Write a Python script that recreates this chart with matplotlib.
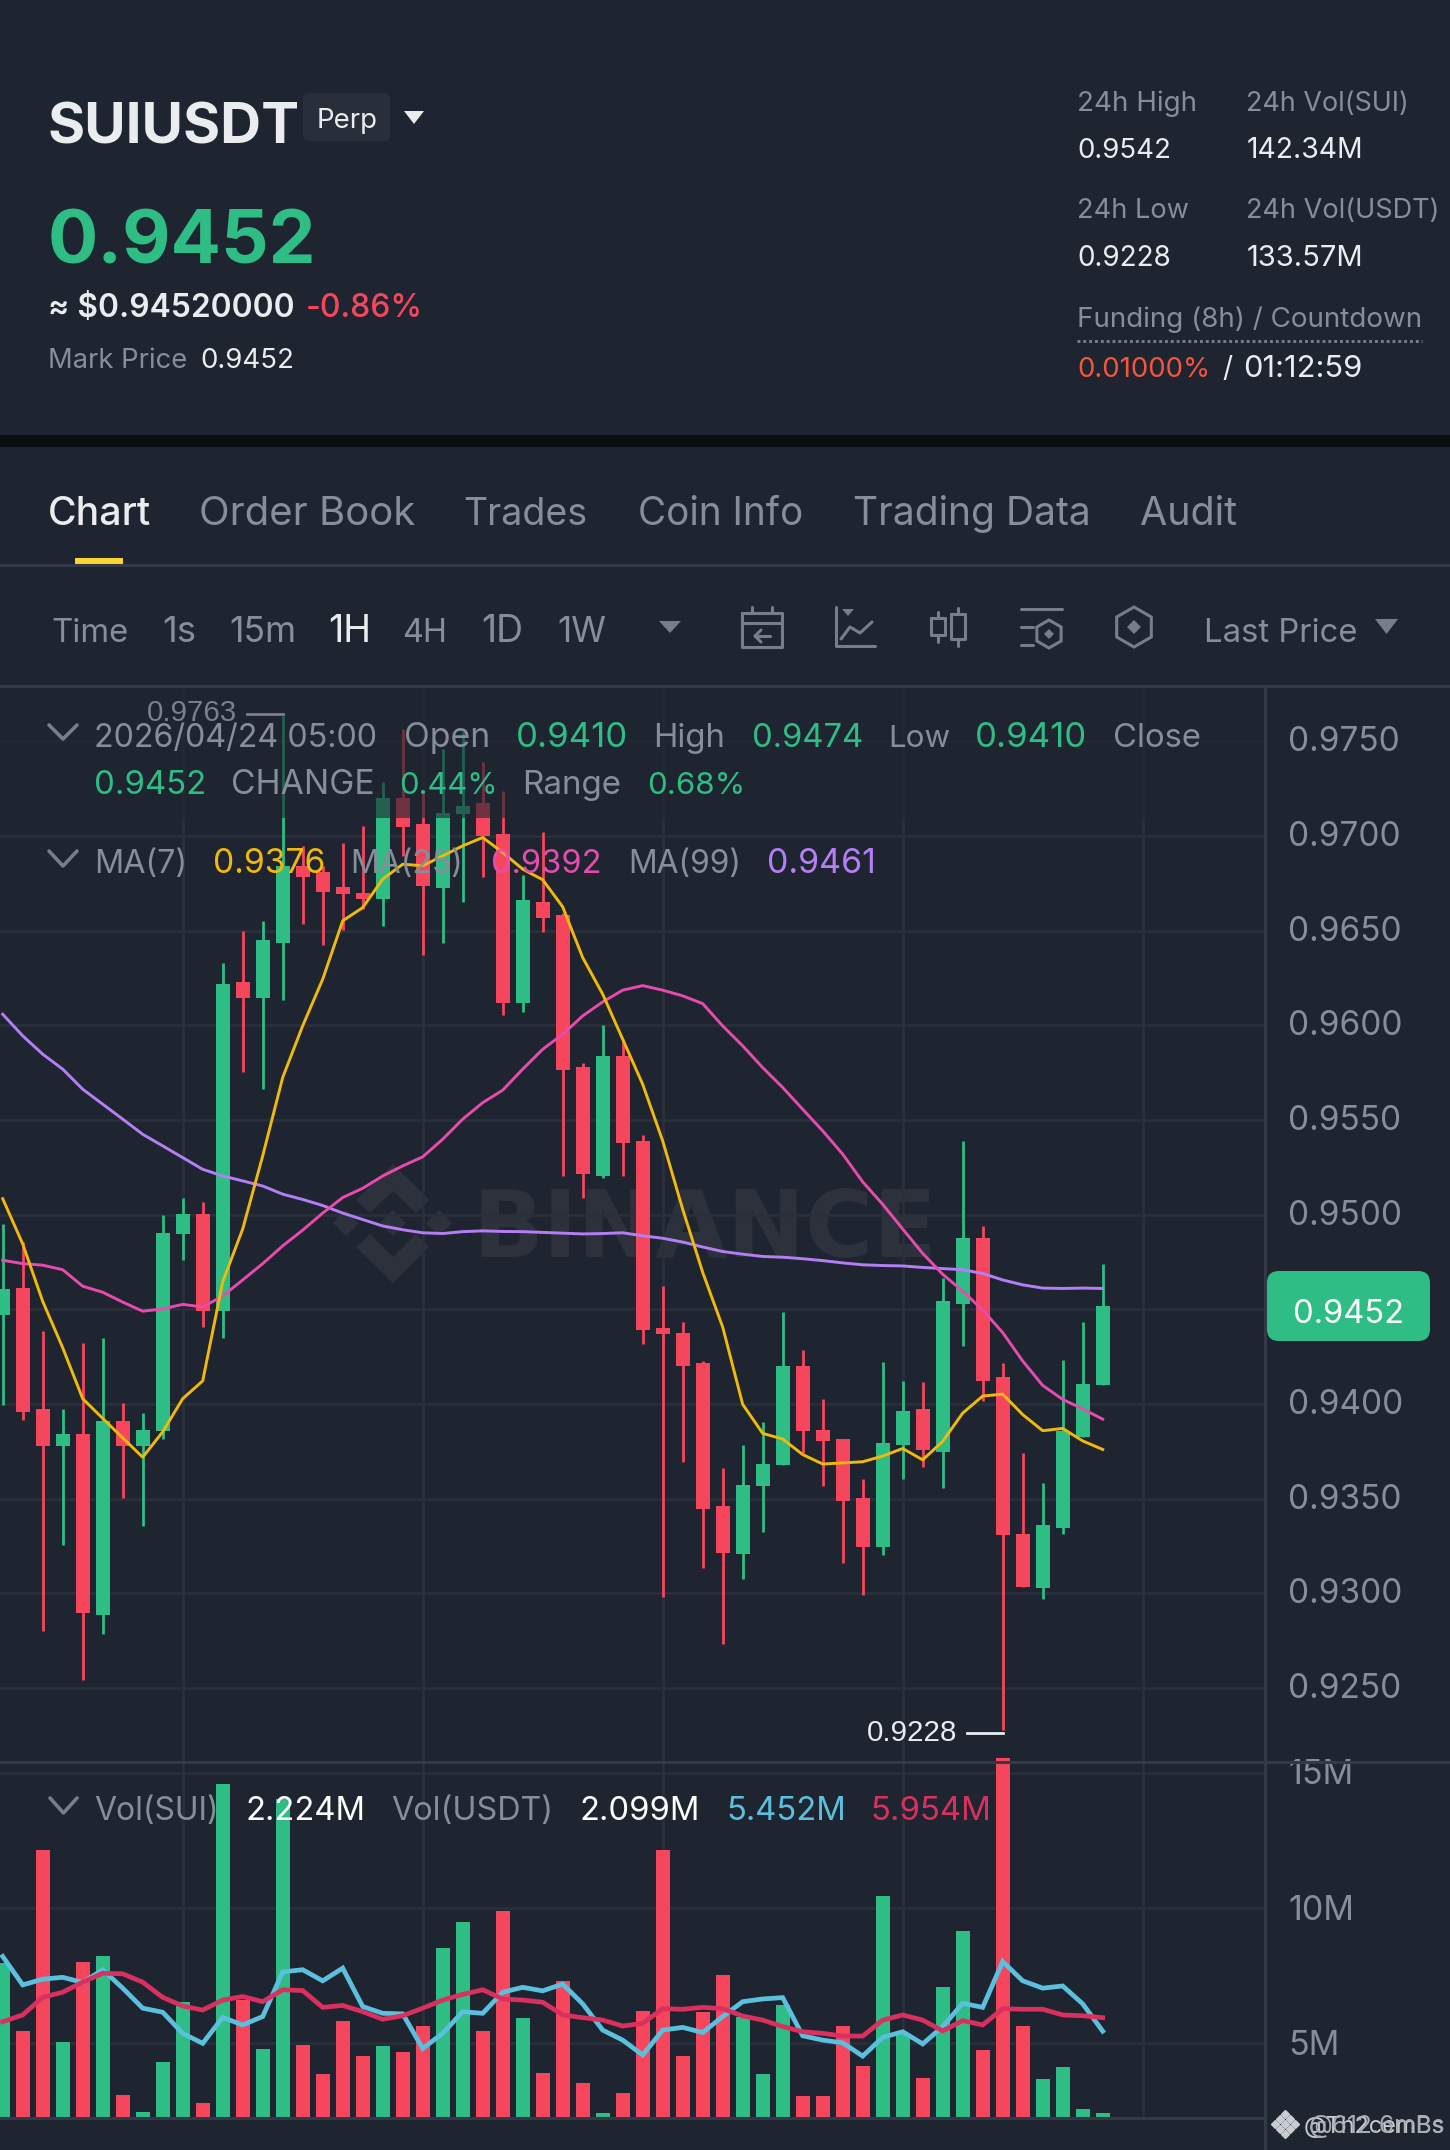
import matplotlib
matplotlib.use("Agg")
import matplotlib.pyplot as plt
from matplotlib.patches import FancyBboxPatch, Polygon, Rectangle, RegularPolygon
from matplotlib.transforms import ScaledTranslation
import numpy as np

plt.rcParams['font.family'] = ['Inter', 'DejaVu Sans']

# hourly candles
opens = [0.94470, 0.94614, 0.93972, 0.93777, 0.93843, 0.92886, 0.93912, 0.93777, 0.93858, 0.94900,
         0.95004, 0.94490, 0.96229, 0.96144, 0.96435, 0.96838, 0.96810, 0.96729, 0.96699, 0.96664,
         0.97199, 0.97060, 0.96724, 0.97116, 0.97171, 0.97011, 0.96116, 0.96648, 0.96581, 0.95780,
         0.95204, 0.95840, 0.95389, 0.94402, 0.94373, 0.94215, 0.93462, 0.93207, 0.93568, 0.93679,
         0.94203, 0.93863, 0.93813, 0.93502, 0.93247, 0.93785, 0.93972, 0.93749, 0.94530, 0.94875,
         0.94143, 0.93311, 0.93026, 0.93347, 0.93827, 0.94100]
highs = [0.94948, 0.94855, 0.94386, 0.93976, 0.94323, 0.94347, 0.94004, 0.93952, 0.94996, 0.95088,
         0.95068, 0.96331, 0.96500, 0.96551, 0.97630, 0.96944, 0.96842, 0.96961, 0.97053, 0.97282,
         0.97563, 0.97229, 0.97461, 0.97546, 0.97391, 0.97238, 0.96792, 0.97021, 0.96592, 0.95803,
         0.96000, 0.95926, 0.95422, 0.94625, 0.94434, 0.94227, 0.93661, 0.93783, 0.93904, 0.94486,
         0.94285, 0.94024, 0.93817, 0.93604, 0.94223, 0.94124, 0.94114, 0.94665, 0.95389, 0.94938,
         0.94215, 0.93743, 0.93584, 0.94233, 0.94434, 0.94740]
lows = [0.93996, 0.93916, 0.92803, 0.93255, 0.92544, 0.92783, 0.93506, 0.93355, 0.93817, 0.94759,
        0.94406, 0.94347, 0.95754, 0.95665, 0.96134, 0.96532, 0.96423, 0.96503, 0.96613, 0.96523,
        0.96894, 0.96371, 0.96433, 0.96653, 0.96785, 0.96053, 0.96072, 0.96493, 0.95204, 0.95090,
        0.95194, 0.95204, 0.94315, 0.92982, 0.93695, 0.93133, 0.92735, 0.93074, 0.93325, 0.93679,
        0.93739, 0.93566, 0.93163, 0.92994, 0.93203, 0.93604, 0.93665, 0.93554, 0.94307, 0.94018,
        0.92280, 0.93034, 0.92972, 0.93311, 0.93827, 0.94100]
closes = [0.94606, 0.93958, 0.93777, 0.93843, 0.92896, 0.93912, 0.93777, 0.93862, 0.94904, 0.95004,
          0.94490, 0.96220, 0.96144, 0.96449, 0.96838, 0.96785, 0.96704, 0.96695, 0.96669, 0.97199,
          0.97046, 0.96734, 0.97118, 0.97160, 0.97000, 0.96116, 0.96660, 0.96565, 0.95766, 0.95215,
          0.95840, 0.95377, 0.94390, 0.94370, 0.94199, 0.93448, 0.93215, 0.93572, 0.93681, 0.94203,
          0.93859, 0.93807, 0.93486, 0.93247, 0.93793, 0.93964, 0.93757, 0.94544, 0.94875, 0.94120,
          0.93307, 0.93034, 0.93361, 0.93855, 0.94104, 0.94520]

ma7 = [0.95084, 0.94845, 0.94542, 0.94297, 0.94028, 0.93924, 0.93821, 0.93719, 0.93853, 0.94028,
       0.94122, 0.94645, 0.94924, 0.95310, 0.95724, 0.95997, 0.96243, 0.96551, 0.96621, 0.96771,
       0.96850, 0.96842, 0.96894, 0.96947, 0.96991, 0.96912, 0.96824, 0.96768, 0.96625, 0.96357,
       0.96164, 0.95926, 0.95688, 0.95389, 0.95028, 0.94695, 0.94406, 0.93998, 0.93845, 0.93815,
       0.93733, 0.93683, 0.93689, 0.93695, 0.93725, 0.93765, 0.93705, 0.93803, 0.93952, 0.94042,
       0.94052, 0.93944, 0.93859, 0.93871, 0.93805, 0.93760]
ma25 = [0.94759, 0.94741, 0.94733, 0.94709, 0.94622, 0.94590, 0.94538, 0.94490, 0.94502, 0.94526,
        0.94512, 0.94570, 0.94655, 0.94741, 0.94835, 0.94918, 0.95008, 0.95090, 0.95139, 0.95204,
        0.95257, 0.95305, 0.95398, 0.95504, 0.95591, 0.95657, 0.95768, 0.95873, 0.95952, 0.96049,
        0.96123, 0.96185, 0.96209, 0.96185, 0.96155, 0.96114, 0.95996, 0.95891, 0.95776, 0.95671,
        0.95556, 0.95442, 0.95319, 0.95173, 0.95054, 0.94924, 0.94795, 0.94685, 0.94596, 0.94496,
        0.94377, 0.94227, 0.94098, 0.94024, 0.93974, 0.93920]
ma99 = [0.96058, 0.95944, 0.95847, 0.95768, 0.95662, 0.95583, 0.95504, 0.95424, 0.95363, 0.95301,
        0.95239, 0.95204, 0.95178, 0.95151, 0.95108, 0.95080, 0.95048, 0.95008, 0.94974, 0.94940,
        0.94920, 0.94904, 0.94900, 0.94910, 0.94914, 0.94911, 0.94910, 0.94906, 0.94902, 0.94898,
        0.94900, 0.94904, 0.94888, 0.94875, 0.94855, 0.94829, 0.94805, 0.94791, 0.94779, 0.94775,
        0.94767, 0.94757, 0.94745, 0.94735, 0.94731, 0.94729, 0.94721, 0.94715, 0.94709, 0.94689,
        0.94655, 0.94629, 0.94612, 0.94610, 0.94612, 0.94610]

# volume in millions
volumes = [7.96, 5.44, 12.14, 5.05, 8.00, 8.22, 3.09, 2.47, 4.33, 6.51,
           2.81, 14.59, 6.60, 4.81, 14.01, 4.94, 3.88, 5.81, 4.53, 4.90,
           4.68, 5.64, 8.54, 9.49, 5.46, 9.90, 5.94, 3.91, 7.31, 3.54,
           2.41, 3.16, 6.19, 12.16, 4.54, 6.17, 7.54, 5.99, 3.86, 6.42,
           3.07, 3.07, 5.64, 4.15, 10.43, 5.37, 3.72, 7.10, 9.15, 4.75,
           15.55, 5.64, 3.70, 4.11, 2.56, 2.41]
vol_ma_fast = [8.21, 7.16, 7.37, 7.44, 7.25, 7.72, 7.04, 6.30, 6.15, 5.37,
               5.00, 5.96, 5.68, 5.99, 7.64, 7.72, 7.31, 7.78, 6.36, 6.11,
               6.09, 4.81, 5.37, 6.17, 6.11, 6.89, 7.07, 6.94, 7.19, 6.46,
               5.49, 5.12, 4.57, 5.49, 5.59, 5.40, 5.99, 6.54, 6.64, 6.69,
               5.28, 5.12, 5.02, 4.53, 5.22, 5.43, 4.98, 5.62, 6.48, 6.33,
               8.02, 7.31, 7.04, 7.12, 6.46, 5.45]
vol_ma_slow = [5.80, 6.05, 6.70, 6.89, 7.26, 7.59, 7.57, 7.26, 6.70, 6.38,
               6.23, 6.60, 6.73, 6.54, 6.98, 6.95, 6.33, 6.40, 6.17, 5.89,
               6.02, 6.30, 6.60, 6.81, 6.98, 6.64, 6.60, 6.52, 6.05, 5.95,
               5.86, 5.64, 5.74, 6.28, 6.26, 6.33, 6.28, 6.01, 5.86, 5.62,
               5.43, 5.37, 5.27, 5.27, 5.86, 6.05, 5.86, 5.46, 5.84, 5.68,
               6.28, 6.26, 6.26, 6.05, 6.02, 5.95]

price_ticks = [0.9750, 0.9700, 0.9650, 0.9600, 0.9550, 0.9500, 0.9450, 0.9400, 0.9350, 0.9300, 0.9250]
price_tick_labels = ['0.9750', '0.9700', '0.9650', '0.9600', '0.9550', '0.9500', '', '0.9400', '0.9350', '0.9300', '0.9250']
vol_ticks = [5, 10, 15]
vol_tick_labels = ['5M', '10M', '15M']
time_ticks = [9, 21, 33, 45, 57]

tabs = ['Order Book', 'Trades', 'Coin Info', 'Trading Data', 'Audit']
tab_x = [199, 463, 638, 853, 1140]
tab_right = [415, 587, 803, 1090, 1237]
intervals = ['Time', '1s', '15m', '1H', '4H', '1D', '1W']
interval_x = [51, 162, 229, 328, 402, 481, 557]
interval_right = [128, 196, 296, 371, 447, 523, 606]

BG = '#1e2530'
GRID = '#2a303b'
EDGE = '#333a47'
GRAY = '#868e9c'
DIM = '#767d8b'
WHITE = '#eaecef'
GREEN = '#2ebd85'
RED = '#f6465d'
YELLOW = '#f0b90b'
PINK = '#e84bad'
PURPLE = '#b57ef5'
CYAN = '#5bc0de'
CRIMSON = '#d9305f'
WM = '#2c313c'

W, H = 1450, 2150
fig = plt.figure(figsize=(W / 100, H / 100), dpi=100, facecolor=BG)
VOL_BASE = 2.28


def box(left, top, right, bottom):
    return [left / W, 1 - bottom / H, (right - left) / W, (bottom - top) / H]


def nudge(axis_, dx, dy):
    # tick labels sit a little up and left of their grid lines in the app
    off = ScaledTranslation(dx / 100, dy / 100, fig.dpi_scale_trans)
    for t in axis_.get_yticklabels():
        t.set_transform(t.get_transform() + off)


# page background: separator band and the watermark sit under the charts
back = fig.add_axes([0, 0, 1, 1], zorder=0)
back.set_xlim(0, W)
back.set_ylim(H, 0)
back.axis('off')
back.add_patch(Rectangle((0, 435), W, 12, color='#0b0e11', lw=0))
for pts in ([(393, 1164), (429, 1200), (416, 1213), (393, 1191), (370, 1213), (356, 1200)],
            [(393, 1283), (429, 1247), (416, 1234), (393, 1257), (370, 1234), (356, 1247)],
            [(393, 1210), (406, 1223), (393, 1236), (380, 1223)],
            [(346, 1210), (359, 1223), (346, 1236), (333, 1223)],
            [(439, 1210), (452, 1223), (439, 1236), (426, 1223)]):
    back.add_patch(Polygon(pts, color=WM, lw=0))
back.text(473, 1257, 'BINANCE', color=WM, fontsize=67, fontweight='bold', family='DejaVu Sans', va='baseline')

x = np.arange(len(closes))
opens_a = np.array(opens)
closes_a = np.array(closes)
colors = [GREEN if c >= o else RED for o, c in zip(opens, closes)]

# price panel
ax = fig.add_axes(box(0, 686, 1265, 1761), zorder=1)
ax.patch.set_alpha(0)
ax.set_xlim(-0.135, 63.115)
ax.set_ylim(0.92115, 0.97791)
ax.vlines(x, lows, highs, colors=colors, lw=2.0, zorder=3)
ax.bar(x, np.abs(closes_a - opens_a), 0.7, bottom=np.minimum(opens_a, closes_a), color=colors, zorder=3)
ax.plot(x, ma99, color=PURPLE, lw=2.1, zorder=4)
ax.plot(x, ma25, color=PINK, lw=2.1, zorder=4)
ax.plot(x, ma7, color=YELLOW, lw=2.1, zorder=4)
ax.set_xticks(time_ticks)
ax.set_xticklabels([])
ax.set_yticks(price_ticks)
ax.set_yticklabels(price_tick_labels, color=GRAY, fontsize=24)
ax.yaxis.tick_right()
ax.tick_params(length=0, axis='y', pad=18)
ax.tick_params(length=0, axis='x')
ax.grid(color=GRID, lw=1.9)
ax.set_axisbelow(True)
for s in ax.spines.values():
    s.set_visible(False)
nudge(ax, -2.5, 2.5)

# volume panel, bars stand on the smallest volume as in the app
vax = fig.add_axes(box(0, 1761, 1265, 2117), zorder=1)
vax.patch.set_alpha(0)
vax.set_xlim(-0.135, 63.115)
vax.set_ylim(VOL_BASE, 15.43)
vax.bar(x, np.array(volumes) - VOL_BASE, 0.7, bottom=VOL_BASE, color=colors, zorder=3, clip_on=False)
vax.plot(x, vol_ma_fast, color=CYAN, lw=3.4, zorder=4, solid_joinstyle='miter')
vax.plot(x, vol_ma_slow, color=CRIMSON, lw=3.4, zorder=4, solid_joinstyle='miter')
vax.set_xticks(time_ticks)
vax.set_xticklabels([])
vax.set_yticks(vol_ticks)
vax.set_yticklabels(vol_tick_labels, color=GRAY, fontsize=24.5)
vax.yaxis.tick_right()
vax.tick_params(length=0, axis='y', pad=18)
vax.tick_params(length=0, axis='x')
vax.grid(color=GRID, lw=1.9)
vax.set_axisbelow(True)
for s in vax.spines.values():
    s.set_visible(False)
nudge(vax, -2, 1)

# everything on top, in pixel coordinates
top = fig.add_axes([0, 0, 1, 1], zorder=5)
top.patch.set_alpha(0)
top.set_xlim(0, W)
top.set_ylim(H, 0)
top.axis('off')
renderer = fig.canvas.get_renderer()


def label(px, py, s, color=GRAY, size=32, weight='normal', right=None, **kw):
    t = top.text(px, py, s, color=color, fontsize=size * 0.72, fontweight=weight, va='baseline', **kw)
    if right is not None:
        # scale the font so the string ends where it ends in the screenshot
        width = t.get_window_extent(renderer).width
        t.set_fontsize(size * 0.72 * (right - px) / width)
    return t


def tri(x0, x1, y0, y1, color):
    top.add_patch(Polygon([(x0, y0), (x1, y0), ((x0 + x1) / 2, y1)], color=color, lw=0))


def seg(xs, ys, color=DIM, lw=2.2):
    top.plot(xs, ys, color=color, lw=lw, solid_capstyle='round', solid_joinstyle='round')


def chevron(x0, x1, y0, y1):
    seg([x0, (x0 + x1) / 2, x1], [y0, y1, y0], lw=2.6)


# dimmed strip behind the first two legend rows
top.add_patch(Rectangle((0, 687), 1264, 131, color=BG, alpha=0.62, lw=0))
top.plot([0, W], [565, 565], color=EDGE, lw=2.2)
top.plot([0, W], [685.5, 685.5], color=EDGE, lw=2.2)
top.plot([0, W], [1761.5, 1761.5], color=EDGE, lw=2.2)
top.plot([0, 1265], [2117.5, 2117.5], color=EDGE, lw=2.2)
top.plot([1265, 1265], [686, H], color=EDGE, lw=2.2)

# header, left
label(48, 143, 'SUIUSDT', WHITE, 56, 'bold', right=300)
top.add_patch(FancyBboxPatch((309, 99), 75, 36, boxstyle='round,pad=6,rounding_size=6', color='#282e3a', lw=0))
label(317, 128, 'Perp', WHITE, 28, right=378)
tri(404, 424, 111, 124, WHITE)
label(48, 263, '0.9452', GREEN, 78, 'bold', right=317)
label(48, 317, '≈ $0.94520000', WHITE, 31, 'semibold', right=293)
label(306, 317, '-0.86%', RED, 32, 'medium', right=423)
label(48, 368, 'Mark Price', GRAY, 27, right=187)
label(200, 368, '0.9452', WHITE, 28, right=294)

# header, right
label(1077, 111, '24h High', GRAY, 28, right=1197)
label(1246, 111, '24h Vol(SUI)', GRAY, 28, right=1409)
label(1077, 158, '0.9542', WHITE, 28, right=1171)
label(1247, 158, '142.34M', WHITE, 28, right=1364)
label(1077, 218, '24h Low', GRAY, 28, right=1189)
label(1246, 218, '24h Vol(USDT)', GRAY, 28, right=1440)
label(1077, 266, '0.9228', WHITE, 28, right=1171)
label(1247, 266, '133.57M', WHITE, 28, right=1364)
label(1077, 327, 'Funding (8h) / Countdown', GRAY, 28, right=1422)
top.plot([1077, 1422], [341, 341], color=DIM, lw=2.1, ls=(0, (1, 1)))
label(1077, 377, '0.01000%', '#f6553a', 28, right=1210)
label(1222, 377, '/', WHITE, 28)
label(1243, 377, '01:12:59', WHITE, 28, right=1362)

# tabs
label(48, 525, 'Chart', WHITE, 38, 'medium', right=151)
for tx, name, tr in zip(tab_x, tabs, tab_right):
    label(tx, 525, name, GRAY, 38, right=tr)
top.add_patch(Rectangle((75, 558), 48, 9, color='#fcd535', lw=0))

# interval row
for tx, name, tr in zip(interval_x, intervals, interval_right):
    label(tx, 642, name, WHITE if name == '1H' else GRAY, 32, right=tr)
tri(659, 681, 621, 633, DIM)
label(1204, 642, 'Last Price', GRAY, 32, right=1357)
tri(1375, 1398, 619, 634, DIM)

# toolbar icons
seg([742, 782, 782, 742, 742], [613, 613, 647, 647, 613])
seg([742, 782], [623, 623])
seg([752, 752], [607, 613])
seg([772, 772], [607, 613])
seg([755, 770], [636, 636])
seg([761, 755, 761], [630, 636, 642])
seg([836, 836, 875], [607, 646, 646])
top.add_patch(Polygon([(842, 609), (854, 609), (848, 616)], color=DIM, lw=0))
seg([841, 850, 860, 872], [639, 627, 633, 622])
seg([931, 945, 945, 931, 931], [618, 618, 635, 635, 618])
seg([938, 938], [612, 618])
seg([938, 938], [635, 642])
seg([951, 965, 965, 951, 951], [614, 614, 639, 639, 614])
seg([958, 958], [608, 614])
seg([958, 958], [639, 646])
seg([1021, 1062], [609, 609])
seg([1021, 1033], [627, 627])
seg([1021, 1033], [645, 645])
top.add_patch(RegularPolygon((1049, 634), 6, radius=14, fill=False, ec=DIM, lw=2.2))
top.add_patch(RegularPolygon((1049, 634), 4, radius=5, color=DIM, lw=0))
top.add_patch(RegularPolygon((1134, 627), 6, radius=20, fill=False, ec=DIM, lw=2.2))
top.add_patch(RegularPolygon((1134, 627), 4, radius=7, color=DIM, lw=0))

# legend rows
chevron(49, 77, 725, 739)
label(94, 747, '2026/04/24 05:00', right=378)
label(404, 747, 'Open', right=490)
label(516, 747, '0.9410', GREEN, right=628)
label(653, 747, 'High', right=725)
label(752, 747, '0.9474', GREEN, right=863)
label(888, 747, 'Low', right=950)
label(975, 747, '0.9410', GREEN, right=1087)
label(1113, 747, 'Close', right=1201)
label(94, 794, '0.9452', GREEN, right=206)
label(231, 794, 'CHANGE', right=374)
label(399, 794, '0.44%', GREEN, right=498)
label(522, 794, 'Range', right=621)
label(647, 794, '0.68%', GREEN, right=745)
chevron(49, 77, 851, 866)
label(94, 873, 'MA(7)', right=187)
label(213, 873, '0.9376', YELLOW, right=325)
label(350, 873, 'MA(25)', right=463)
label(491, 873, '0.9392', PINK, right=601)
label(628, 873, 'MA(99)', right=741)
label(767, 873, '0.9461', PURPLE, right=876)

# high and low markers
label(147, 721, '0.9763', '#7b818c', 28, right=237, family='Liberation Sans')
top.plot([247, 283], [714, 714], color='#7b818c', lw=2)
label(867, 1741, '0.9228', WHITE, 28, right=957, family='Liberation Sans')
top.plot([967, 1003], [1733, 1733], color=WHITE, lw=2)

# current price tag
top.add_patch(FancyBboxPatch((1279, 1283), 139, 46, boxstyle='round,pad=12,rounding_size=12', color=GREEN, lw=0))
label(1293, 1323, '0.9452', 'white', 32, right=1404)

# volume legend
chevron(50, 77, 1798, 1813)
label(94, 1820, 'Vol(SUI)', right=219)
label(246, 1820, '2.224M', 'white', right=366)
label(391, 1820, 'Vol(USDT)', right=553)
label(580, 1820, '2.099M', 'white', right=700)
label(726, 1820, '5.452M', CYAN, right=846)
label(870, 1820, '5.954M', CRIMSON, right=991)

# corner mark, two stamps on top of each other
for mx, my in ((1285, 2114), (1275, 2124), (1295, 2124), (1285, 2124), (1285, 2134), (1280, 2119), (1290, 2119), (1280, 2129), (1290, 2129)):
    top.plot(mx, my, marker='D', ms=4.5, color='#c9ccd1', lw=0)
label(1304, 2133, '@Th2cemBs', '#c9ccd1', 26, right=1445)
label(1309, 2133, '@612.6mBs', '#a9adb4', 26, right=1445)

fig.savefig('out.png', dpi=100, facecolor=BG)
